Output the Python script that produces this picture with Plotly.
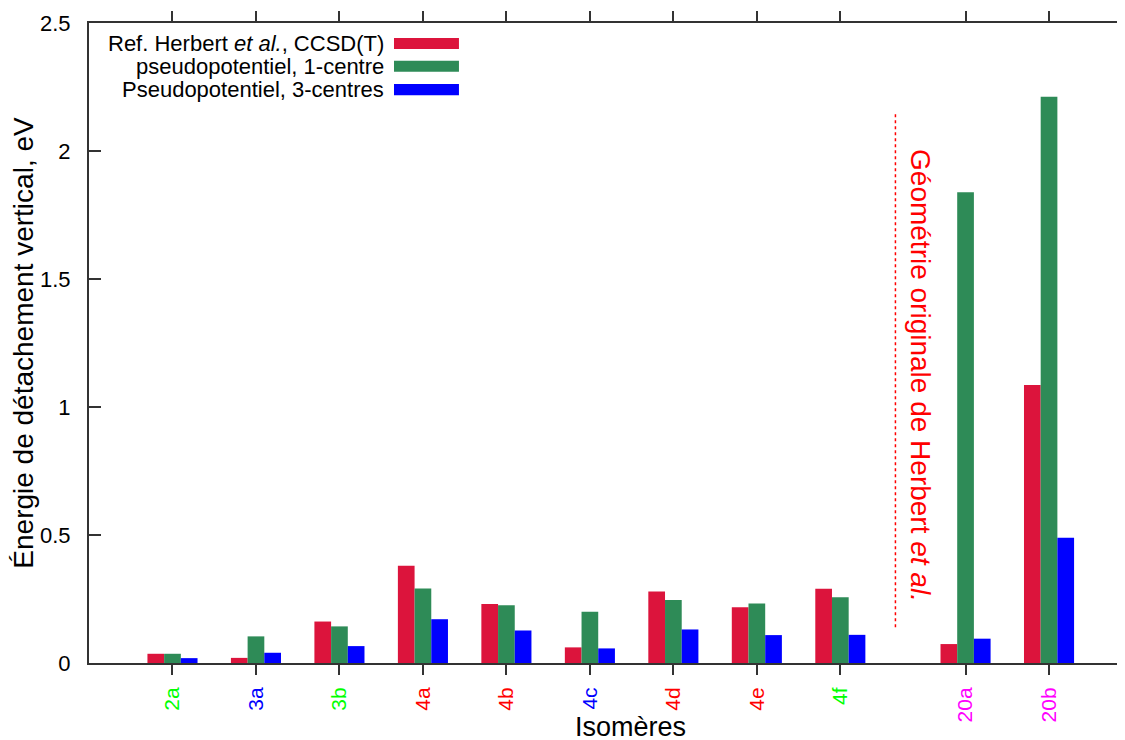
import plotly.graph_objects as go

# ---------------- data ----------------
isomers = ["2a", "3a", "3b", "4a", "4b", "4c", "4d", "4e", "4f", "20a", "20b"]
label_colors = ["#00FF00", "#0000FF", "#00FF00", "#FF0000", "#FF0000", "#0000FF",
                "#FF0000", "#FF0000", "#00FF00", "#FF00FF", "#FF00FF"]

ref_ccsdt = [0.036, 0.020, 0.162, 0.380, 0.230, 0.061, 0.279, 0.218, 0.290, 0.074, 1.086]
pp_1centre = [0.036, 0.104, 0.143, 0.291, 0.226, 0.200, 0.246, 0.232, 0.257, 1.839, 2.212]
pp_3centres = [0.019, 0.040, 0.066, 0.171, 0.127, 0.057, 0.131, 0.109, 0.110, 0.095, 0.489]

series_names = ["Ref. Herbert <i>et al.</i>, CCSD(T)",
                "pseudopotentiel, 1-centre",
                "Pseudopotentiel, 3-centres"]
series_colors = ["#DC143C", "#2E8B57", "#0000FF"]
series_values = [ref_ccsdt, pp_1centre, pp_3centres]

y_ticks = [0, 0.5, 1, 1.5, 2, 2.5]
y_ticktext = ["0", "0.5", "1", "1.5", "2", "2.5"]

annotation_text = "Géométrie originale de Herbert <i>et al.</i>"

# layout helpers (positions: the two 20-molecule clusters are set apart)
GAP_AFTER = 9          # index after which an extra gap is inserted
EXTRA_GAP = 0.5
x_pos = [i + 1 + (EXTRA_GAP if i >= GAP_AFTER else 0) for i in range(len(isomers))]

SEP_X = 9.66
SEP_Y0, SEP_Y1 = 0.14, 2.155
ANN_X, ANN_Y = 9.96, 1.123

FONT = "Arial, Liberation Sans, sans-serif"
AXIS_COLOR = "#333333"

# the page body adds an 8 px margin: the figure is 8 px smaller to fit the window
PAGE_MARGIN = 8

fig = go.Figure()
for name, color, vals in zip(series_names, series_colors, series_values):
    fig.add_trace(go.Bar(x=x_pos, y=vals, name=name, marker_color=color,
                         marker_line_width=0, showlegend=False))

ticktext = [f'<span style="color:{c}">{t}</span>' for t, c in zip(isomers, label_colors)]

fig.update_layout(
    width=1125 - PAGE_MARGIN, height=740 - PAGE_MARGIN,
    margin=dict(l=89 - PAGE_MARGIN, r=0, t=23 - PAGE_MARGIN, b=77, autoexpand=False),
    paper_bgcolor="white", plot_bgcolor="white",
    barmode="group", bargap=0.4, bargroupgap=0,
    font=dict(family=FONT, size=22, color="black"),
    xaxis=dict(range=[0, 12.41], tickvals=x_pos, ticktext=ticktext, tickangle=-90,
               ticks="outside", ticklen=10, tickwidth=2, tickcolor=AXIS_COLOR,
               showline=True, linecolor=AXIS_COLOR, linewidth=2, mirror="ticks",
               showgrid=False, zeroline=False, tickfont=dict(size=21),
               ticklabelstandoff=4, automargin=False),
    yaxis=dict(range=[0, 2.5], tickvals=y_ticks, ticktext=y_ticktext,
               ticks="inside", ticklen=12, tickwidth=2, tickcolor=AXIS_COLOR,
               showline=True, linecolor=AXIS_COLOR, linewidth=2, mirror=False,
               showgrid=False, zeroline=False, tickfont=dict(size=22),
               ticklabelstandoff=12,
               title=dict(text="Énergie de détachement vertical, eV",
                          font=dict(size=28), standoff=2),
               automargin=False),
)

# x-axis title (centred on the full original frame)
fig.add_annotation(text="Isomères", xref="paper", yref="paper", x=0.523, y=-0.1,
                   xanchor="center", yanchor="middle", showarrow=False, borderpad=0,
                   font=dict(size=27, color="black"))

# separator and vertical annotation
fig.add_shape(type="line", xref="x", yref="y", x0=SEP_X, x1=SEP_X, y0=SEP_Y0, y1=SEP_Y1,
              line=dict(color="#FF0000", width=1.5, dash="dot"))
fig.add_annotation(text=annotation_text, xref="x", yref="y", x=ANN_X, y=ANN_Y,
                   textangle=90, showarrow=False, font=dict(size=28, color="#FF0000"))

# custom legend: text right-aligned, swatch on the right
legend_rows_y = [0.9678, 0.9323, 0.8959]
for name, color, yy in zip(series_names, series_colors, legend_rows_y):
    fig.add_annotation(text=name, xref="paper", yref="paper", x=0.2867, y=yy,
                       xanchor="right", yanchor="middle", showarrow=False,
                       font=dict(size=22, color="black"))
    fig.add_shape(type="rect", xref="paper", yref="paper", x0=0.2944, x1=0.3571,
                  y0=yy - 0.0086, y1=yy + 0.0086, fillcolor=color, line_width=0)

fig.write_html("out.html")
